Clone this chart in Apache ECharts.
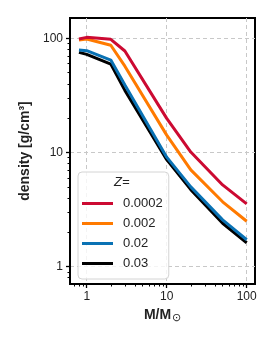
<!DOCTYPE html>
<html><head><meta charset="utf-8">
<script src="https://cdn.jsdelivr.net/npm/echarts@6/dist/echarts.min.js"></script>
<style>html,body{margin:0;padding:0;background:#fff}#c{width:274px;height:343px}</style>
</head><body><div id="c"></div>
<script>
const masses = [0.8, 1, 2, 3, 10, 20, 50, 100];
const zLabels = ['0.0002', '0.002', '0.02', '0.03'];
const rhoZ0002 = [98.6, 102, 98, 77.5, 19.9, 10.1, 5.2, 3.55];
const rhoZ002 = [96.6, 98.6, 87, 57, 14.2, 7.05, 3.7, 2.5];
const rhoZ02 = [79, 78, 64.5, 39, 9.1, 5.0, 2.57, 1.72];
const rhoZ03 = [75.4, 72.3, 59.5, 35, 8.66, 4.73, 2.4, 1.62];
const majorTicks = [1, 10, 100];
const xMinorTicks = [0.7, 0.8, 0.9, 2, 3, 4, 5, 6, 7, 8, 9, 20, 30, 40, 50, 60, 70, 80, 90];
const yMinorTicks = [0.8, 0.9, 2, 3, 4, 5, 6, 7, 8, 9, 20, 30, 40, 50, 60, 70, 80, 90];

const colors = ['#cc0a32', '#ff7a00', '#0a72b4', '#000000'];
const seriesValues = [rhoZ0002, rhoZ002, rhoZ02, rhoZ03];

const chart = echarts.init(document.getElementById('c'), null, {renderer: 'canvas'});
const font = 'Liberation Sans, Arial, sans-serif';
const xMin = 0.618, xMax = 127, yMin = 0.705, yMax = 150.7;

function majorAxis(isX) {
  return {
    type: 'log', logBase: 10,
    min: isX ? xMin : yMin, max: isX ? xMax : yMax,
    axisLine: {show: true, onZero: false, lineStyle: {color: '#000', width: 2}},
    axisTick: {show: true, customValues: majorTicks, length: 4, lineStyle: {color: '#000', width: 1.3}},
    axisLabel: {show: true, customValues: majorTicks, fontSize: 12, color: '#222', fontFamily: font, margin: 7},
    splitLine: {show: true, lineStyle: {color: '#c8c8c8', type: [4, 3], width: 1}},
    minorTick: {show: false}, minorSplitLine: {show: false}
  };
}
function minorAxis(isX) {
  return {
    type: 'log', logBase: 10,
    min: isX ? xMin : yMin, max: isX ? xMax : yMax,
    position: isX ? 'bottom' : 'left',
    axisLine: {show: false},
    axisTick: {show: true, customValues: isX ? xMinorTicks : yMinorTicks, length: 2.5, lineStyle: {color: '#000', width: 1}},
    axisLabel: {show: false},
    splitLine: {show: false}
  };
}

const xA = majorAxis(true);
xA.name = 'M/M{s|⊙}';
xA.nameLocation = 'middle';
xA.nameGap = 20;
xA.nameTextStyle = {fontWeight: 'bold', fontSize: 14, color: '#222', fontFamily: font,
  rich: {s: {fontSize: 11, fontWeight: 'normal', color: '#222', verticalAlign: 'bottom', padding: [6, 0, 0, 1]}}};
const yA = majorAxis(false);
yA.name = 'density [g/cm³]';
yA.nameLocation = 'middle';
yA.nameGap = 33;
yA.nameTextStyle = {fontWeight: 'bold', fontSize: 14, color: '#222', fontFamily: font};

const option = {
  animation: false,
  backgroundColor: '#fff',
  grid: {left: 70, right: 19, top: 18, bottom: 59, show: true, borderColor: '#000', borderWidth: 2, backgroundColor: 'transparent'},
  xAxis: [xA, minorAxis(true)],
  yAxis: [yA, minorAxis(false)],
  legend: {
    orient: 'vertical', left: 78, top: 172,
    data: zLabels.map(n => ({name: n, icon: 'rect'})),
    itemWidth: 31, itemHeight: 3, itemGap: 5,
    padding: [24, 6, 8, 4],
    backgroundColor: 'rgba(255,255,255,0.8)', borderColor: '#d4d4d4', borderWidth: 1, borderRadius: 4,
    textStyle: {fontSize: 13, lineHeight: 15, color: '#222', fontFamily: font, padding: [0, 0, 0, 5]}
  },
  graphic: [{
    type: 'text', left: 114, top: 176, z: 100,
    style: {text: 'Z=', font: 'italic 13px ' + font, fill: '#222'}
  }],
  series: seriesValues.map((vals, i) => ({
    name: zLabels[i], type: 'line', xAxisIndex: 0, yAxisIndex: 0,
    data: masses.map((m, j) => [m, vals[j]]),
    showSymbol: false, symbol: 'none',
    lineStyle: {color: colors[i], width: 3},
    itemStyle: {color: colors[i]},
    z: 10 - i
  }))
};
chart.setOption(option);
</script></body></html>
